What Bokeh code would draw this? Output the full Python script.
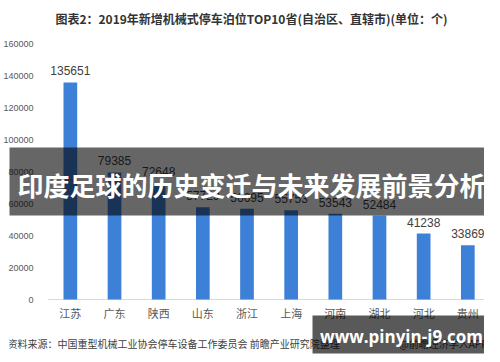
from bokeh.plotting import figure
from bokeh.models import Range1d, FixedTicker, Label, BoxAnnotation, ColumnDataSource
from bokeh.core.properties import value
from bokeh.embed import file_html
from bokeh.resources import INLINE

provinces = ["江苏", "广东", "陕西", "山东", "浙江", "上海", "河南", "湖北", "河北", "贵州"]
berths = [135651, 79385, 72648, 57729, 56695, 55753, 53543, 52484, 41238, 33869]
y_ticks = [0, 20000, 40000, 60000, 80000, 100000, 120000, 140000, 160000]

title_text = "图表2：2019年新增机械式停车泊位TOP10省(自治区、直辖市)(单位：个)"
source_text = "资料来源：中国重型机械工业协会停车设备工作委员会 前瞻产业研究院整理"
credit_text = "@前瞻经济学人APP"
overlay_text = "印度足球的历史变迁与未来发展前景分析"
site_text = "www.pinyin-j9.com"

CJK = "Noto Sans CJK SC"
BAR = "#3c80d8"

W, H = 484, 354
# pixel layout: value axis 0 at y=299 px from top, 160000 at 43 px
PX_PER_UNIT = 256 / 160000
y_start = -(H - 299) / PX_PER_UNIT
y_end = 160000 + 43 / PX_PER_UNIT
CAT_PX = 45
x_start = -0.5 - 39.5 / CAT_PX
x_end = x_start + W / CAT_PX

src = ColumnDataSource(dict(
    x=list(range(len(provinces))),
    top=berths,
    label=[str(v) for v in berths],
))

p = figure(width=W, height=H, output_backend="svg", toolbar_location=None,
           x_range=Range1d(x_start, x_end), y_range=Range1d(y_start, y_end),
           min_border=0)
p.outline_line_color = None
p.background_fill_color = "white"
p.border_fill_color = "white"
p.xgrid.visible = False
p.ygrid.visible = False

# baseline of category axis
p.segment(x0=-0.5, x1=len(provinces) - 0.5, y0=0, y1=0, line_color="#d9d9d9", line_width=1)

p.vbar(x="x", top="top", width=0.31, source=src, fill_color=BAR, line_color=None)
p.text(x="x", y="top", text="label", source=src, text_align="center", text_baseline="bottom",
       y_offset=-7, text_font_size="12px", text_color="#404040", text_font=value("Liberation Sans"))

xa = p.xaxis[0]
xa.ticker = FixedTicker(ticks=list(range(len(provinces))))
xa.major_label_overrides = {i: name for i, name in enumerate(provinces)}
xa.axis_line_color = None
xa.major_tick_line_color = None
xa.minor_tick_line_color = None
xa.major_label_standoff = -(H - 298)
xa.major_label_text_font = CJK
xa.major_label_text_font_size = "11px"
xa.major_label_text_color = "#595959"

ya = p.yaxis[0]
ya.ticker = FixedTicker(ticks=y_ticks)
ya.axis_line_color = None
ya.major_tick_line_color = None
ya.minor_tick_line_color = None
ya.major_label_standoff = -30
ya.major_label_text_font = "Liberation Sans"
ya.major_label_text_font_size = "9px"
ya.major_label_text_color = "#595959"
ya.formatter.use_scientific = False

def lab(x, y, text, size, color, font=CJK, bold=False, align="center"):
    return Label(x=x, y=y, x_units="screen", y_units="screen", text=text,
                 text_align=align, text_baseline="middle", text_font=font,
                 text_font_size=size, text_font_style="bold" if bold else "normal",
                 text_color=color)

p.add_layout(lab(242, H - 18, title_text, "12px", "#333333", bold=True))
p.add_layout(lab(-2, H - 343, source_text, "10px", "#404040", align="left"))
p.add_layout(lab(478, H - 343, credit_text, "10px", "#404040", align="right"))

p.add_layout(BoxAnnotation(left=-1, right=485, bottom=H - 215, top=H - 147,
                           left_units="screen", right_units="screen",
                           bottom_units="screen", top_units="screen",
                           fill_color="black", fill_alpha=0.6, line_alpha=0))
p.add_layout(lab(242, H - 184, overlay_text, "26px", "white", bold=True))

p.add_layout(BoxAnnotation(left=303, right=483, bottom=H - 353, top=H - 315,
                           left_units="screen", right_units="screen",
                           bottom_units="screen", top_units="screen",
                           fill_color="black", fill_alpha=0.65, line_alpha=0))
p.add_layout(lab(392, H - 336, site_text, "17px", "white", font="Open Sans", bold=True))

open("out.html", "w").write(file_html(p, INLINE))
